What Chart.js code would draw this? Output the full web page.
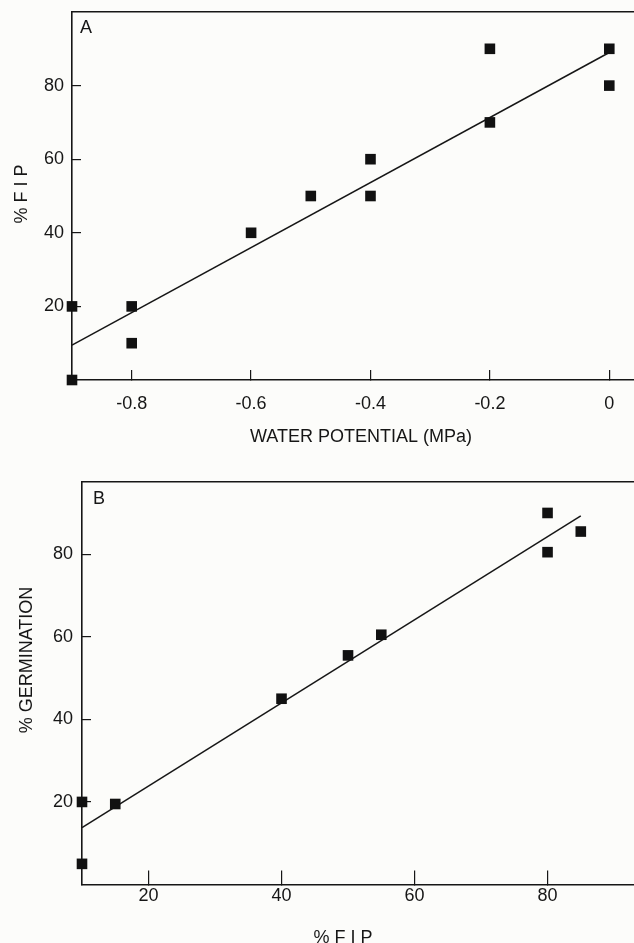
<!DOCTYPE html>
<html>
<head>
<meta charset="utf-8">
<script src="https://cdn.jsdelivr.net/npm/chart.js@4.4.0/dist/chart.umd.min.js"></script>
<style>
    html, body { margin: 0; padding: 0; background: #fcfcfa; }
    #wrapA { position: absolute; left: 0; top: 0; width: 634px; height: 470px; }
    #wrapB { position: absolute; left: 0; top: 470px; width: 634px; height: 473px; }
</style>
</head>
<body>
<div id="wrapA"><canvas id="chartA"></canvas></div>
<div id="wrapB"><canvas id="chartB"></canvas></div>
<script>
// panel A: FIP against water potential
var waterPotential = [-0.9, -0.9, -0.8, -0.8, -0.6, -0.5, -0.4, -0.4, -0.2, -0.2, 0, 0];
var fipA = [0, 20, 20, 10, 40, 50, 60, 50, 90, 70, 90, 80];
var fitAx = [-0.9, 0];
var fitAy = [9.5, 89];
var xTicksA = [-0.8, -0.6, -0.4, -0.2, 0];
var xLabelsA = ['-0.8', '-0.6', '-0.4', '-0.2', '0'];
var yTicksA = [20, 40, 60, 80];

// panel B: germination against FIP
var fipB = [10, 10, 15, 40, 50, 55, 80, 80, 85];
var germB = [20, 5, 19.5, 45, 55.5, 60.5, 90, 80.5, 85.5];
var fitBx = [10, 85];
var fitBy = [13.8, 89.3];
var xTicksB = [20, 40, 60, 80];
var yTicksB = [20, 40, 60, 80];

var ink = '#161616';
var fontFamily = '"Liberation Sans", Arial, Helvetica, sans-serif';

function pts(xs, ys) {
    return xs.map(function(x, i) { return { x: x, y: ys[i] }; });
}

// no extra room for labels hanging over the plot edges
function noScalePadding(s) {
    s.paddingTop = 0;
    s.paddingBottom = 0;
    s.paddingLeft = 0;
    s.paddingRight = 0;
}

// draws panel letter and axis titles as canvas text
var textPlugin = {
    id: 'panelText',
    afterDraw: function(chart, args, opts) {
        var ctx = chart.ctx;
        ctx.save();
        ctx.fillStyle = ink;
        ctx.font = '18px ' + fontFamily;
        ctx.textBaseline = 'alphabetic';
        opts.items.forEach(function(t) {
            ctx.save();
            ctx.translate(t.x, t.y);
            if (t.rot) ctx.rotate(t.rot);
            ctx.textAlign = t.align || 'center';
            ctx.fillText(t.text, 0, 0);
            ctx.restore();
        });
        ctx.restore();
    }
};

function makeChart(id, o) {
    return new Chart(document.getElementById(id).getContext('2d'), {
        type: 'scatter',
        data: {
            datasets: [{
                data: pts(o.xs, o.ys),
                pointStyle: 'rect',
                pointRadius: 7.5,
                pointHoverRadius: 7.5,
                backgroundColor: '#111',
                borderWidth: 0,
                clip: false
            }, {
                data: pts(o.fitX, o.fitY),
                showLine: true,
                pointRadius: 0,
                borderColor: ink,
                borderWidth: 1.5,
                clip: false
            }]
        },
        options: {
            responsive: true,
            maintainAspectRatio: false,
            animation: false,
            layout: { autoPadding: false, padding: { top: 12, left: 0, right: 0, bottom: 0 } },
            plugins: {
                legend: { display: false },
                tooltip: { enabled: false },
                panelText: { items: o.texts }
            },
            scales: {
                x: {
                    type: 'linear',
                    min: o.xMin,
                    max: o.xMax,
                    afterFit: function(s) { s.height = o.xAxisHeight; noScalePadding(s); },
                    afterBuildTicks: function(s) { s.ticks = o.xTicks.map(function(v) { return { value: v }; }); },
                    grid: { drawOnChartArea: false, drawTicks: true, tickLength: -o.xTickLen, color: ink, lineWidth: 1.2 },
                    border: { display: true, color: ink, width: 1.6 },
                    ticks: {
                        padding: o.xPad,
                        color: ink,
                        font: { family: fontFamily, size: 18 },
                        callback: function(v, i) { return o.xLabels[i]; }
                    }
                },
                xTop: {
                    type: 'linear',
                    position: 'top',
                    min: o.xMin,
                    max: o.xMax,
                    afterFit: function(s) { s.height = 0; noScalePadding(s); },
                    grid: { display: false },
                    ticks: { display: false },
                    border: { display: true, color: ink, width: 1.6 }
                },
                y: {
                    type: 'linear',
                    min: 0,
                    max: o.yMax,
                    afterFit: function(s) { s.width = o.yAxisWidth; noScalePadding(s); },
                    afterBuildTicks: function(s) { s.ticks = o.yTicks.map(function(v) { return { value: v }; }); },
                    grid: { drawOnChartArea: false, drawTicks: true, tickLength: -9, color: ink, lineWidth: 1.2 },
                    border: { display: true, color: ink, width: 1.6 },
                    ticks: {
                        padding: o.yPad,
                        color: ink,
                        font: { family: fontFamily, size: 18 },
                        callback: function(v) { return String(v); }
                    }
                }
            }
        },
        plugins: [textPlugin]
    });
}

makeChart('chartA', {
    xs: waterPotential, ys: fipA, fitX: fitAx, fitY: fitAy,
    xMin: -0.9, xMax: 0.0414, yMax: 100,
    xTicks: xTicksA, xLabels: xLabelsA, yTicks: yTicksA,
    xAxisHeight: 90, yAxisWidth: 72, xTickLen: 10, xPad: 23, yPad: 17,
    texts: [
        { text: 'A', x: 80, y: 33, align: 'left' },
        { text: 'WATER POTENTIAL (MPa)', x: 361, y: 442 },
        { text: '% F I P', x: 26.5, y: 194, rot: -Math.PI / 2 }
    ]
});

makeChart('chartB', {
    xs: fipB, ys: germB, fitX: fitBx, fitY: fitBy,
    xMin: 10, xMax: 93, yMax: 97.5,
    xTicks: xTicksB, xLabels: xTicksB.map(String), yTicks: yTicksB,
    xAxisHeight: 58.5, yAxisWidth: 82, xTickLen: 14, xPad: 15, yPad: 18,
    texts: [
        { text: 'B', x: 93, y: 34, align: 'left' },
        { text: '% F I P', x: 343, y: 473 },
        { text: '% GERMINATION', x: 32, y: 190, rot: -Math.PI / 2 }
    ]
});
</script>
</body>
</html>
